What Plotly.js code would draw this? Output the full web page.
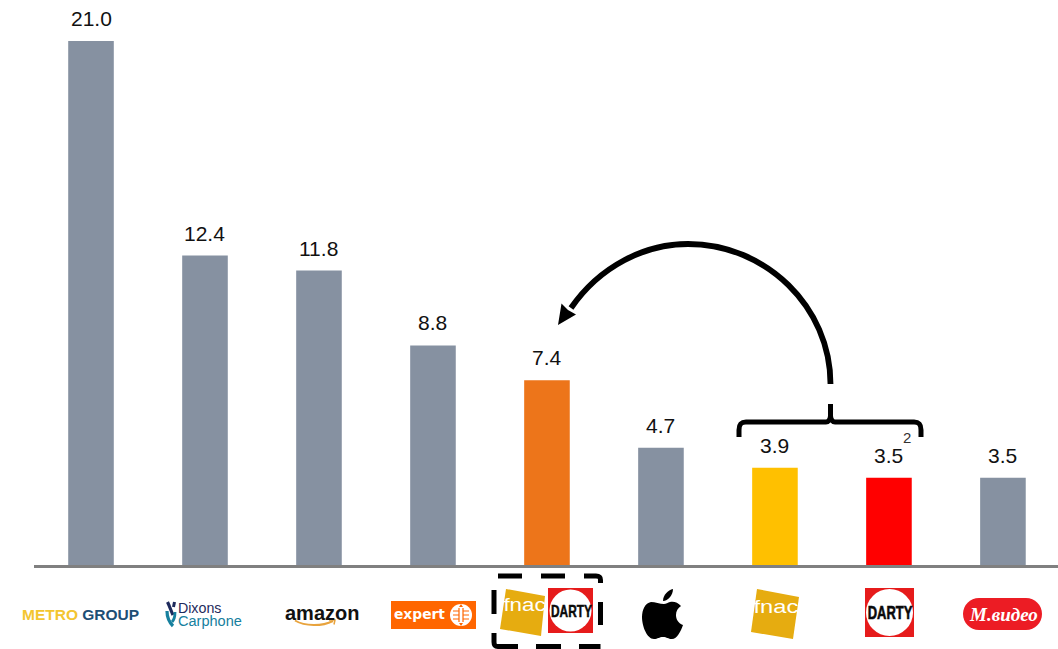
<!DOCTYPE html>
<html>
<head>
<meta charset="utf-8">
<script src="https://cdn.plot.ly/plotly-3.0.1.min.js"></script>
<style>html,body{margin:0;padding:0;background:#fff}#chart{width:1058px;height:649px}</style>
</head>
<body>
<div id="chart"></div>
<script>
// Consumer electronics retail revenue by group
const retailers = ['Metro Group', 'Dixons Carphone', 'Amazon', 'Expert', 'Fnac Darty', 'Apple', 'Fnac', 'Darty', 'M.Video'];
const revenue = [21.0, 12.4, 11.8, 8.8, 7.4, 4.7, 3.9, 3.5, 3.5];
const barColors = ['#8691A1', '#8691A1', '#8691A1', '#8691A1', '#ED751A', '#8691A1', '#FFC000', '#FF0000', '#8691A1'];

const WIDTH = 1058, HEIGHT = 649;
const PLOT_LEFT = 34, PLOT_W = WIDTH - PLOT_LEFT, PLOT_H = 565;

// Page pixels to paper fractions, so decorations can be written in page coordinates
const toPaperX = x => (x - PLOT_LEFT) / PLOT_W;
const toPaperY = y => 1 - y / PLOT_H;
function pagePath(str) {
  let i = 0;
  return str.replace(/-?\d+(\.\d+)?/g, n => (i++ % 2 === 0 ? toPaperX(+n) : toPaperY(+n)).toFixed(5));
}
function stroke(path, color, width) {
  return {type: 'path', xref: 'paper', yref: 'paper', path: pagePath(path), line: {color, width}, layer: 'above'};
}
function fill(path, color) {
  return {type: 'path', xref: 'paper', yref: 'paper', path: pagePath(path), fillcolor: color, line: {width: 0}, layer: 'above'};
}
function disc(cx, cy, r, color) {
  return {type: 'circle', xref: 'paper', yref: 'paper',
    x0: toPaperX(cx - r), x1: toPaperX(cx + r), y0: toPaperY(cy + r), y1: toPaperY(cy - r),
    fillcolor: color, line: {width: 0}, layer: 'above'};
}
function note(text, x, y, size, color, family) {
  return {
    text, xref: 'paper', yref: 'paper', x: toPaperX(x), y: toPaperY(y),
    xanchor: 'center', yanchor: 'middle', showarrow: false, borderpad: 0,
    font: {family: family || 'Liberation Sans, Arial, sans-serif', size, color}
  };
}

const FNAC_GOLD = '#E6AC10', DARTY_RED = '#E61B1B';

const shapes = [
  // Curved arrow from the bracket to the merged bar
  stroke('M830.5 384 C830.5 307 766 244 688 244 C645 244 600 266 571 308', '#000000', 5.8),
  fill('M558 325 L561.5 303.5 L568 310 L576 314.5 Z', '#000000'),
  // Bracket over the two merging retailers
  stroke('M739 437 L739 430 C739 424 741 422 746 422 L826 422 C829 422 830 420 830.5 416 L830.5 404 ' +
         'M830.5 416 C831 420 832 422 835 422 L914 422 C919 422 921 424 921 430 L921 437', '#000000', 5),
  // Dashed frame around the combined logo
  stroke('M498 576 L522 576 M541 576 L565 576 M584 576 L596 576 C599 576 600.5 577 600.5 580 L600.5 583 ' +
         'M600.5 602 L600.5 625 M600.5 646.5 L579 646.5 M561 646.5 L536 646.5 M518 646.5 L498 646.5 ' +
         'C495 646.5 494 645 494 642 L494 633 M494 614 L494 590', '#000000', 5),

  // Dixons Carphone knot
  stroke('M167.5 602 C170 607 171 611 173 615', '#1E2A5C', 3.2),
  stroke('M174.5 602 L173.5 607', '#1E2A5C', 3),
  stroke('M167 611 C167 618 169 622 173 626', '#17809E', 3.2),
  stroke('M175 612 C175 617 174 620 172 622', '#17809E', 2.8),
  // Amazon smile
  stroke('M295 620.5 C305 626.5 322 626.5 333 621', '#E8A33D', 2),
  stroke('M329 620 L335 620 L334 624.5', '#E8A33D', 1.5),
  // Expert badge
  fill('M391 601 L476 601 L476 629 L391 629 Z', '#FF6600'),
  disc(461, 615, 11, '#FFFFFF'),
  stroke('M453 611 L459 611 M453 615 L459 615 M453 619 L459 619 M463 611 L469 611 M463 615 L469 615 M463 619 L469 619 ' +
         'M459 608 L459 622 M463 608 L463 622', '#FF6600', 1.2),
  fill('M461 604 L459 607 L463 607 Z', '#FF6600'),
  fill('M461 626 L459 623 L463 623 Z', '#FF6600'),

  // Fnac + Darty logos inside the frame
  fill('M506 589 L545 596 L541 636 L500 629 Z', FNAC_GOLD),
  fill('M548 588 L593 588 L593 633 L548 633 Z', DARTY_RED),
  disc(570.5, 610.5, 21, '#FFFFFF'),

  // Apple
  fill('M664 604 C660 604 655 602 651 602 C645 603 642 610 642 617 C642 626 647 639 654 639 ' +
       'C658 639 659 637 663 637 C667 637 668 639 672 639 C677 639 681 631 683 625 ' +
       'C678 623 676 619 676 615 C676 611 678 608 681 606 C678 602 673 601 670 602 C668 602.5 666 604 664 604 Z', '#000000'),
  fill('M663 601 C663 595 668 590 673 589 C673 595 668 601 663 601 Z', '#000000'),

  // Standalone Fnac and Darty logos
  fill('M757 589 L799 597 L793 639 L751 632 Z', FNAC_GOLD),
  fill('M865 588 L914 588 L914 637 L865 637 Z', DARTY_RED),
  disc(889.5, 612.5, 23.5, '#FFFFFF'),

  // M.Video pill
  fill('M979 598 L1026 598 C1035 598 1042 605 1042 614 C1042 623 1035 630 1026 630 L979 630 ' +
       'C970 630 963 623 963 614 C963 605 970 598 979 598 Z', '#EC1C24')
];

// Value labels sit above each bar, read straight from the revenue array
const valueLabels = retailers.map((name, i) => ({
  x: name, y: revenue[i], xref: 'x', yref: 'y', text: revenue[i].toFixed(1),
  showarrow: false, xanchor: 'center', yanchor: 'bottom', yshift: 10, borderpad: 0,
  font: {family: 'Liberation Sans, Arial, sans-serif', size: 21, color: '#111111'}
}));

// Wordmarks with their horizontal squeeze or stretch and optional extra weight
const wordmarks = [
  {a: note('<b><span style="color:#F3C530">METRO</span> <span style="color:#1D4E75">GROUP</span></b>', 80, 614, 15.5, '#1D4E75'), sx: 1},
  {a: note('Dixons', 199.5, 607, 15.5, '#1E2A5C'), sx: 0.92},
  {a: note('Carphone', 210, 620, 15, '#17809E'), sx: 0.97},
  {a: note('<b>amazon</b>', 322, 613, 20, '#111111'), sx: 1},
  {a: note('<b>expert</b>', 419.5, 614, 13.8, '#FFFFFF', 'DejaVu Sans, sans-serif'), sx: 1},
  {a: note('fnac', 524.5, 604.5, 17.5, '#FFFFFF'), sx: 1.28},
  {a: note('<b>DARTY</b>', 571, 611, 16.5, '#0A0A0A'), sx: 0.72, heavy: 0.5},
  {a: note('fnac', 776, 606, 19, '#FFFFFF'), sx: 1.25},
  {a: note('<b>DARTY</b>', 889.5, 613, 18, '#0A0A0A'), sx: 0.72, heavy: 0.6},
  {a: note('<b><i>М.видео</i></b>', 1003, 614, 19, '#FFFFFF', 'Liberation Serif, serif'), sx: 1}
];
const superscript = note('2', 907, 437.5, 15, '#333333');

const trace = {
  type: 'bar', x: retailers, y: revenue, width: 0.4,
  marker: {color: barColors, line: {width: 0}},
  hoverinfo: 'x+y', cliponaxis: false
};

const layout = {
  width: WIDTH, height: HEIGHT,
  margin: {l: PLOT_LEFT, r: 0, t: 0, b: HEIGHT - PLOT_H, pad: 0},
  paper_bgcolor: '#FFFFFF', plot_bgcolor: '#FFFFFF',
  showlegend: false, bargap: 0.6,
  font: {family: 'Liberation Sans, Arial, sans-serif'},
  xaxis: {type: 'category', categoryorder: 'array', categoryarray: retailers,
          range: [-0.5, 8.483], showticklabels: false, ticks: '', showgrid: false, zeroline: false,
          showline: true, linecolor: '#808080', linewidth: 3, fixedrange: true},
  yaxis: {range: [0, PLOT_H / (524 / 21)], visible: false, showgrid: false, zeroline: false, fixedrange: true},
  shapes,
  annotations: valueLabels.concat(wordmarks.map(w => w.a), [superscript])
};

Plotly.newPlot('chart', [trace], layout, {displayModeBar: false, responsive: false}).then(gd => {
  // Annotation fonts have no width axis, so squeeze or stretch the wordmarks around their centres
  const nodes = gd.querySelectorAll('.annotation-text');
  wordmarks.forEach((w, i) => {
    const t = nodes[valueLabels.length + i];
    if (w.sx !== 1) {
      t.style.transformBox = 'fill-box';
      t.style.transformOrigin = 'center';
      t.style.transform = 'scaleX(' + w.sx + ')';
    }
    if (w.heavy) {
      t.style.stroke = '#0A0A0A';
      t.style.strokeWidth = w.heavy + 'px';
    }
  });
});
</script>
</body>
</html>
